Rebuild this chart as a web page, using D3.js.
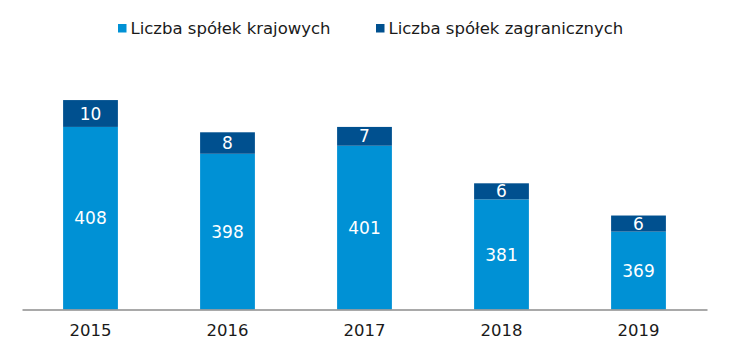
<!DOCTYPE html>
<html><head><meta charset="utf-8">
<script src="https://cdn.jsdelivr.net/npm/d3@7"></script>
<style>body{margin:0;background:#fff}svg{display:block}text{font-family:"DejaVu Sans",Verdana,sans-serif}</style>
</head><body><svg id="c" width="730" height="355"></svg>
<script>
const years = ["2015","2016","2017","2018","2019"];
const domestic = [408,398,401,381,369];
const foreign = [10,8,7,6,6];
const seriesNames = ["Liczba spółek krajowych","Liczba spółek zagranicznych"];
const colors = ["#0091D5","#00508F"];

const svg = d3.select("#c");
const x = d3.scaleBand().domain(years).range([22,707]).paddingInner(0.6).paddingOuter(0.3);
const y = d3.scaleLinear().domain([340,440]).range([309.5,41]);

const data = years.map((yr,i)=>({year:yr,d:domestic[i],f:foreign[i]}));

svg.selectAll("rect.d").data(data).enter().append("rect")
  .attr("x",d=>x(d.year)).attr("width",x.bandwidth())
  .attr("y",d=>y(d.d)).attr("height",d=>y(340)-y(d.d)).attr("fill",colors[0]);
svg.selectAll("rect.f").data(data).enter().append("rect")
  .attr("x",d=>x(d.year)).attr("width",x.bandwidth())
  .attr("y",d=>y(d.d+d.f)).attr("height",d=>y(d.d)-y(d.d+d.f)).attr("fill",colors[1]);

svg.selectAll("text.dl").data(data).enter().append("text")
  .attr("x",d=>x(d.year)+x.bandwidth()/2).attr("y",d=>(y(d.d)+y(340))/2)
  .attr("dy","0.36em").attr("text-anchor","middle").attr("fill","#fff").attr("font-size",17)
  .text(d=>d.d);
svg.selectAll("text.fl").data(data).enter().append("text")
  .attr("x",d=>x(d.year)+x.bandwidth()/2).attr("y",d=>(y(d.d)+y(d.d+d.f))/2)
  .attr("dy","0.36em").attr("text-anchor","middle").attr("fill","#fff").attr("font-size",17)
  .text(d=>d.f);

const ax = svg.append("g").attr("transform","translate(0,309.5)")
  .call(d3.axisBottom(x).tickSize(0).tickPadding(0));
ax.select(".domain").attr("stroke","#8c8c8c").attr("stroke-width",1.3);
ax.selectAll("text").attr("font-size",16.5).attr("fill","#1a1a1a").attr("dy",null).attr("y",26)
  .attr("font-family","DejaVu Sans, Verdana, sans-serif");

const legX = [118,376];
seriesNames.forEach((n,i)=>{
  svg.append("rect").attr("x",legX[i]).attr("y",24).attr("width",8.5).attr("height",8.5).attr("fill",colors[i]);
  svg.append("text").attr("x",legX[i]+12.5).attr("y",34).attr("font-size",16.5).attr("fill","#1a1a1a").text(n);
});
</script></body></html>
